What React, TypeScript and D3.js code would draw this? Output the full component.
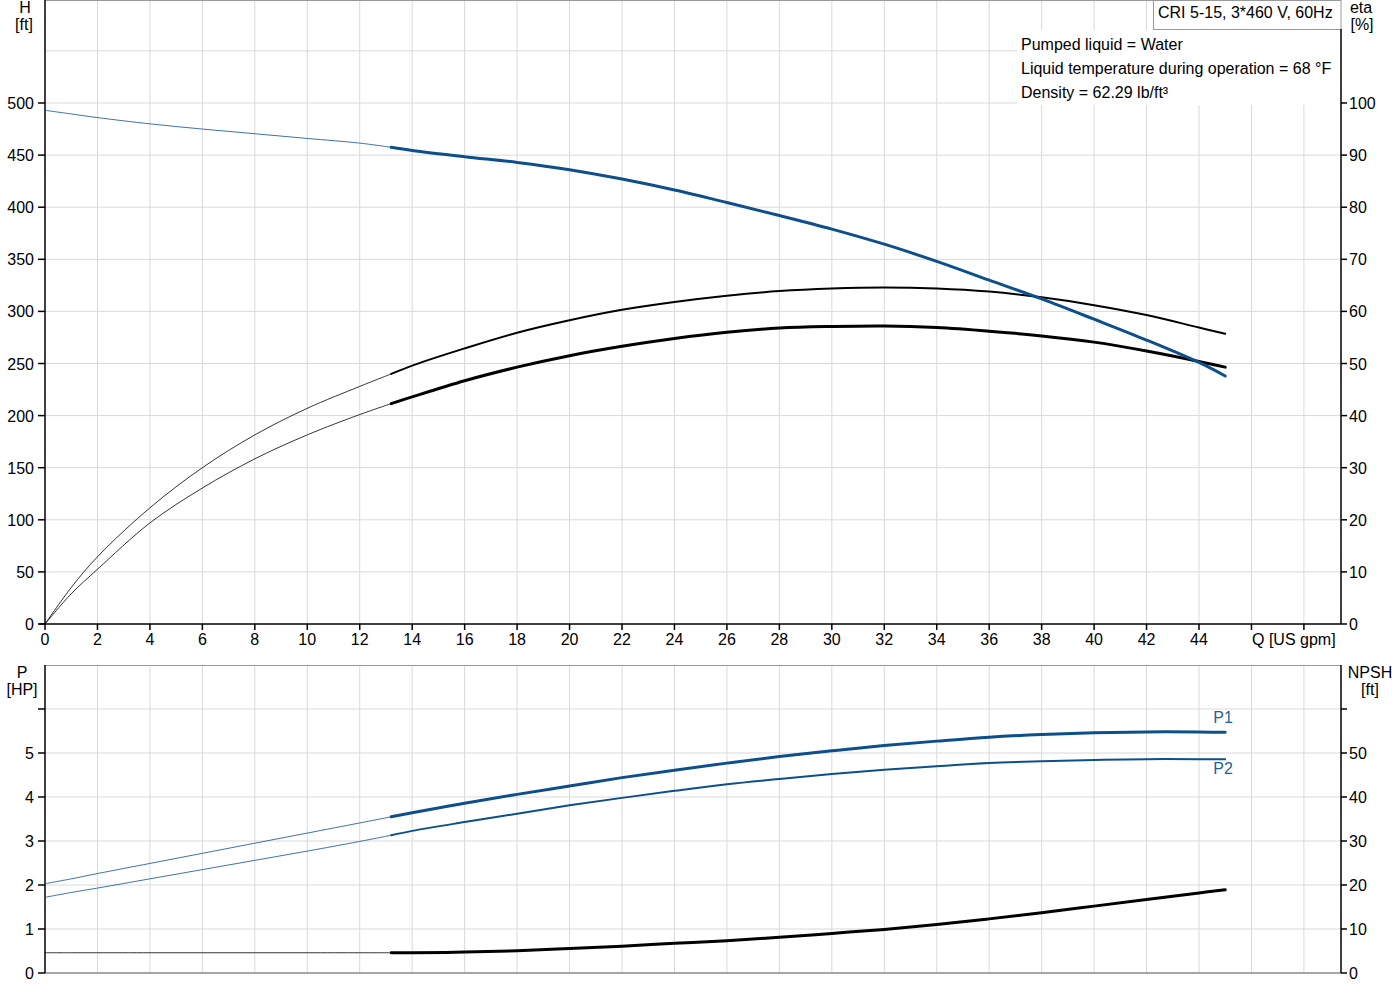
import * as d3 from "d3";

// flow points shared by every curve [US gpm]
const Q = [0, 1, 2, 4, 6, 8, 10, 12, 13.2, 14, 16, 18, 20, 22, 24, 26, 28, 30, 32, 34, 36, 38, 40, 42, 44, 45];
// head [ft]
const H = [493, 489.5, 486, 480, 475, 470.5, 466, 461.5, 457.5, 454.5, 448.5, 443, 436, 427, 416.5, 404.5, 392, 379, 364.5, 348, 330, 312, 292.5, 272.5, 251, 238];
// efficiencies [%]
const ETA_PUMP = [0, 7.0, 12.9, 22.3, 30.0, 36.3, 41.4, 45.6, 48.0, 49.6, 52.9, 55.9, 58.3, 60.3, 61.8, 63.0, 63.9, 64.4, 64.6, 64.4, 63.8, 62.7, 61.2, 59.3, 56.9, 55.7];
const ETA_TOTAL = [0, 5.8, 10.5, 19.4, 26.1, 31.7, 36.3, 40.2, 42.3, 43.6, 46.7, 49.3, 51.5, 53.3, 54.8, 56.0, 56.8, 57.1, 57.2, 56.9, 56.2, 55.3, 54.1, 52.4, 50.4, 49.3];
// power [HP]
const P1 = [2.03, 2.14, 2.26, 2.49, 2.72, 2.95, 3.18, 3.41, 3.55, 3.64, 3.86, 4.06, 4.25, 4.44, 4.61, 4.77, 4.92, 5.05, 5.17, 5.27, 5.36, 5.42, 5.46, 5.48, 5.48, 5.47];
const P2 = [1.72, 1.83, 1.93, 2.14, 2.35, 2.56, 2.77, 2.99, 3.13, 3.23, 3.43, 3.62, 3.81, 3.98, 4.14, 4.29, 4.41, 4.52, 4.62, 4.70, 4.77, 4.81, 4.84, 4.86, 4.86, 4.86];
// NPSH [ft]
const NPSH = [4.6, 4.6, 4.6, 4.6, 4.6, 4.6, 4.6, 4.6, 4.6, 4.6, 4.75, 5.05, 5.55, 6.1, 6.75, 7.35, 8.1, 9.0, 9.9, 11.0, 12.3, 13.7, 15.2, 16.7, 18.2, 18.9];

const Q_MIN_DUTY = 13.2; // thin line below, thick above

const X_TICKS = d3.range(0, 50, 2);
const X_LABELS = d3.range(0, 46, 2);
const H_TICKS = d3.range(0, 501, 50);
const H_GRID = d3.range(0, 601, 50);
const ETA_TICKS = d3.range(0, 101, 10);
const P_TICKS = d3.range(0, 7, 1);
const P_LABELS = d3.range(0, 6, 1);
const NPSH_TICKS = d3.range(0, 61, 10);
const NPSH_LABELS = d3.range(0, 51, 10);

const INFO = [
  "Pumped liquid = Water",
  "Liquid temperature during operation = 68 °F",
  "Density = 62.29 lb/ft³",
];
const TITLE = "CRI 5-15, 3*460 V, 60Hz";

const BLUE = "#0d4f8b";
const GRID = "#d9d9d9";
const FONT = "'Liberation Sans', Arial, sans-serif";

const L = 45;
const R = 1341;
const TOP1 = 0;
const BOT1 = 624;
const TOP2 = 665;
const BOT2 = 973;

export default function App() {
  const x = d3.scaleLinear().domain([0, 44]).range([L, 1199]);
  const yH = d3.scaleLinear().domain([0, 500]).range([BOT1, 103]);
  const yEta = d3.scaleLinear().domain([0, 100]).range([BOT1, 103]);
  const yP = d3.scaleLinear().domain([0, 7]).range([BOT2, TOP2]);
  const yN = d3.scaleLinear().domain([0, 70]).range([BOT2, TOP2]);

  const path = (vals: number[], y: d3.ScaleLinear<number, number>, part: "low" | "duty") => {
    const pts = Q.map((q, i) => [q, vals[i]] as [number, number]).filter(([q]) =>
      part === "low" ? q <= Q_MIN_DUTY : q >= Q_MIN_DUTY
    );
    return d3.line<[number, number]>()
      .x((d) => x(d[0]))
      .y((d) => y(d[1]))
      .curve(d3.curveCatmullRom.alpha(0.5))(pts) ?? "";
  };

  const curve = (vals: number[], y: d3.ScaleLinear<number, number>, color: string, w: number) => (
    <g fill="none" stroke={color} strokeLinecap="round">
      <path d={path(vals, y, "low")} strokeWidth={0.8} />
      <path d={path(vals, y, "duty")} strokeWidth={w} />
    </g>
  );

  const txt = { fontFamily: FONT, fontSize: 16, fill: "#000" } as const;

  return (
    <svg width={1400} height={1000} style={{ position: "absolute", left: 0, top: 0, background: "#fff" }}>
      {/* ── grids ── */}
      <g stroke={GRID} strokeWidth={1}>
        {X_TICKS.slice(1).map((t) => (
          <line key={`gx1${t}`} x1={x(t)} x2={x(t)} y1={TOP1} y2={BOT1} />
        ))}
        {H_GRID.slice(1, -1).map((t) => (
          <line key={`gy1${t}`} x1={L} x2={R} y1={yH(t)} y2={yH(t)} />
        ))}
        {X_TICKS.slice(1).map((t) => (
          <line key={`gx2${t}`} x1={x(t)} x2={x(t)} y1={TOP2} y2={BOT2} />
        ))}
        {P_TICKS.slice(1).map((t) => (
          <line key={`gy2${t}`} x1={L} x2={R} y1={yP(t)} y2={yP(t)} />
        ))}
      </g>

      {/* ── frames ── */}
      <line x1={L} x2={R} y1={0.5} y2={0.5} stroke="#999" />
      <line x1={L} x2={R} y1={TOP2 + 0.5} y2={TOP2 + 0.5} stroke="#999" />
      <line x1={L} x2={R} y1={BOT2} y2={BOT2} stroke="#888" strokeWidth={1.5} />

      {/* ── info box ── */}
      <rect x={1017} y={30} width={323} height={75} fill="#fff" />
      {INFO.map((s, i) => (
        <text key={s} x={1021} y={50 + i * 24} {...txt}>{s}</text>
      ))}
      <rect x={1153.5} y={0.5} width={R - 1153.5} height={29} fill="#fff" stroke="#999" />
      <text x={1158} y={18} {...txt}>{TITLE}</text>

      {/* ── top panel axes ── */}
      <g stroke="#000" strokeWidth={1.5}>
        <line x1={L} x2={L} y1={0} y2={BOT1} />
        <line x1={R} x2={R} y1={29} y2={BOT1} />
        <line x1={L - 6} x2={R} y1={BOT1} y2={BOT1} />
        {X_TICKS.map((t) => (
          <line key={`xt${t}`} x1={x(t)} x2={x(t)} y1={BOT1} y2={BOT1 + 6} />
        ))}
        {H_TICKS.map((t) => (
          <line key={`ht${t}`} x1={L - 7} x2={L} y1={yH(t)} y2={yH(t)} />
        ))}
        {ETA_TICKS.map((t) => (
          <line key={`et${t}`} x1={R} x2={R + 6} y1={yEta(t)} y2={yEta(t)} />
        ))}
      </g>
      {X_LABELS.map((t) => (
        <text key={`xl${t}`} x={x(t)} y={645} textAnchor="middle" {...txt}>{t}</text>
      ))}
      <text x={1252} y={645} {...txt}>Q [US gpm]</text>
      {H_TICKS.map((t) => (
        <text key={`hl${t}`} x={34} y={yH(t) + 6} textAnchor="end" {...txt}>{t}</text>
      ))}
      {ETA_TICKS.map((t) => (
        <text key={`el${t}`} x={1349} y={yEta(t) + 6} {...txt}>{t}</text>
      ))}
      <text x={25} y={13} textAnchor="middle" {...txt}>H</text>
      <text x={24} y={30} textAnchor="middle" {...txt}>[ft]</text>
      <text x={1361} y={13} textAnchor="middle" {...txt}>eta</text>
      <text x={1362} y={30} textAnchor="middle" {...txt}>[%]</text>

      {/* ── bottom panel axes ── */}
      <g stroke="#000" strokeWidth={1.5}>
        <line x1={L} x2={L} y1={TOP2} y2={BOT2} />
        <line x1={R} x2={R} y1={TOP2} y2={BOT2} />
        {P_TICKS.map((t) => (
          <line key={`pt${t}`} x1={L - 7} x2={L} y1={yP(t)} y2={yP(t)} />
        ))}
        {NPSH_TICKS.map((t) => (
          <line key={`nt${t}`} x1={R} x2={R + 6} y1={yN(t)} y2={yN(t)} />
        ))}
      </g>
      {P_LABELS.map((t) => (
        <text key={`pl${t}`} x={34} y={yP(t) + 6} textAnchor="end" {...txt}>{t}</text>
      ))}
      {NPSH_LABELS.map((t) => (
        <text key={`nl${t}`} x={1349} y={yN(t) + 6} {...txt}>{t}</text>
      ))}
      <text x={22} y={678} textAnchor="middle" {...txt}>P</text>
      <text x={22} y={695} textAnchor="middle" {...txt}>[HP]</text>
      <text x={1370} y={678} textAnchor="middle" {...txt}>NPSH</text>
      <text x={1370} y={695} textAnchor="middle" {...txt}>[ft]</text>

      {/* ── curves ── */}
      {curve(ETA_PUMP, yEta, "#000", 2)}
      {curve(ETA_TOTAL, yEta, "#000", 3)}
      {curve(H, yH, BLUE, 3)}
      {curve(P1, yP, BLUE, 3)}
      {curve(P2, yP, BLUE, 2)}
      {curve(NPSH, yN, "#000", 3)}
      <text x={1223} y={723} textAnchor="middle" {...txt} fill="#1f5fa0">P1</text>
      <text x={1223} y={774} textAnchor="middle" {...txt} fill="#1f5fa0">P2</text>
    </svg>
  );
}
